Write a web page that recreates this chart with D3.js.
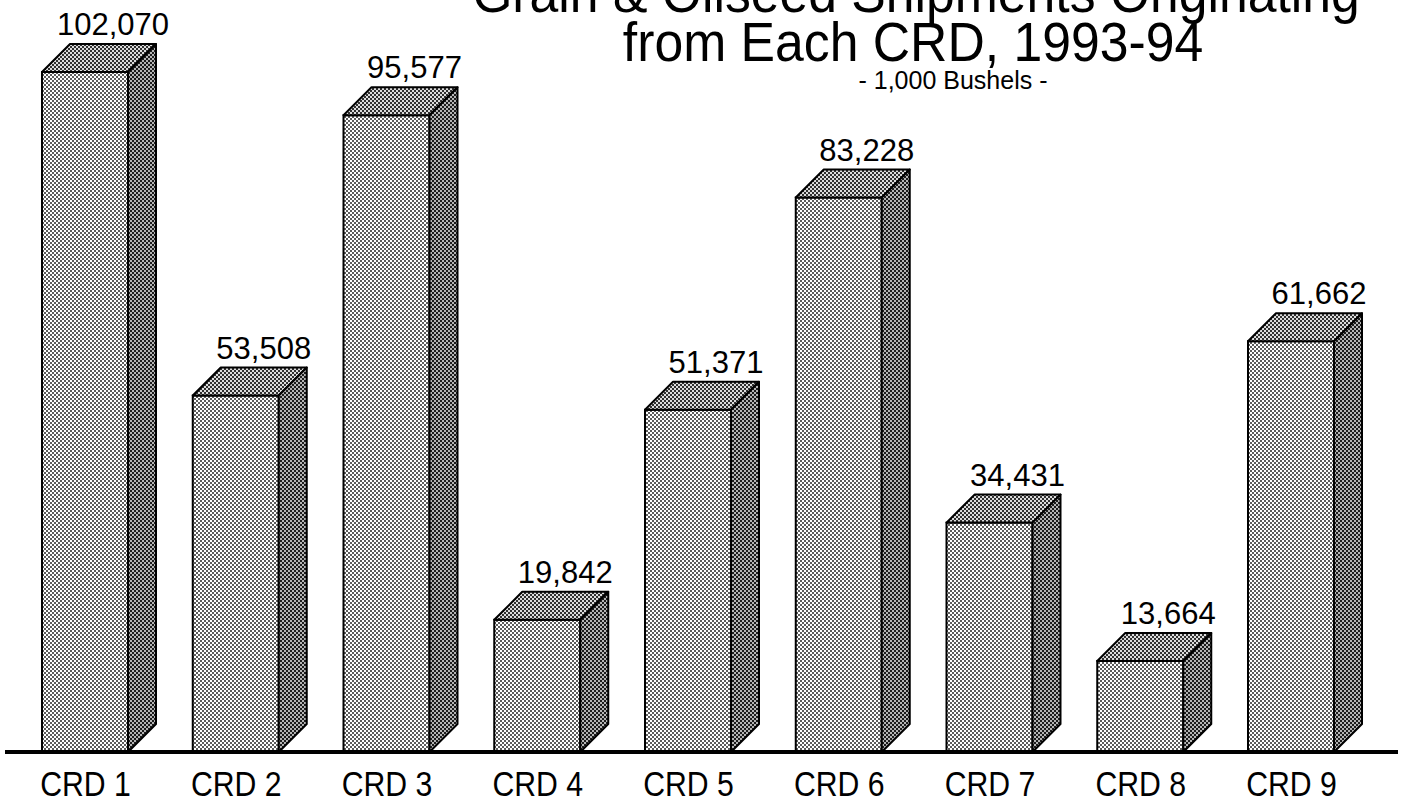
<!DOCTYPE html>
<html>
<head>
<meta charset="utf-8">
<script src="https://cdn.jsdelivr.net/npm/d3@7"></script>
<style>
  html, body { margin: 0; padding: 0; background: #fff; }
  svg { display: block; }
  text { font-family: "Liberation Sans", Arial, Helvetica, sans-serif; fill: #000; }
</style>
</head>
<body>
<svg id="chart" width="1409" height="804"></svg>
<script>
// ---- Data ----
const categories = ["CRD 1", "CRD 2", "CRD 3", "CRD 4", "CRD 5", "CRD 6", "CRD 7", "CRD 8", "CRD 9"];
const values = [102070, 53508, 95577, 19842, 51371, 83228, 34431, 13664, 61662];
const titleLines = ["Grain & Oilseed Shipments Originating", "from Each CRD, 1993-94"];
const subtitle = "- 1,000 Bushels -";

// ---- Layout ----
const W = 1409, H = 804;
const baseY = 752;
const barW = 86;
const depthX = 28, depthY = 28;

const svg = d3.select("#chart");
const defs = svg.append("defs");

function checker(id, light, dark) {
  const p = defs.append("pattern").attr("id", id).attr("patternUnits", "userSpaceOnUse")
    .attr("width", 4).attr("height", 4);
  p.append("rect").attr("width", 4).attr("height", 4).attr("fill", light);
  p.append("rect").attr("x", 0).attr("y", 0).attr("width", 2).attr("height", 2).attr("fill", dark);
  p.append("rect").attr("x", 2).attr("y", 2).attr("width", 2).attr("height", 2).attr("fill", dark);
}
checker("pFront", "#ffffff", "#5c5c5c");
checker("pTop", "#dcdcdc", "#303030");
checker("pSide", "#b4b4b4", "#1c1c1c");

const x = d3.scalePoint().domain(categories).range([85, 1291]);
const y = d3.scaleLinear().domain([0, d3.max(values)]).range([baseY, 72]);

const data = categories.map((c, i) => ({ c, v: values[i] }));

const bars = svg.append("g").selectAll("g").data(data).join("g");

// front face
bars.append("rect")
  .attr("x", d => x(d.c) - barW / 2)
  .attr("y", d => y(d.v))
  .attr("width", barW)
  .attr("height", d => baseY - y(d.v))
  .attr("fill", "url(#pFront)")
  .attr("stroke", "#000").attr("stroke-width", 2);

// top face
bars.append("path")
  .attr("d", d => {
    const l = x(d.c) - barW / 2, r = l + barW, t = y(d.v);
    return `M${l},${t} L${l + depthX},${t - depthY} L${r + depthX},${t - depthY} L${r},${t} Z`;
  })
  .attr("fill", "url(#pTop)")
  .attr("stroke", "#000").attr("stroke-width", 2).attr("stroke-linejoin", "round");

// side face
bars.append("path")
  .attr("d", d => {
    const r = x(d.c) + barW / 2, t = y(d.v);
    return `M${r},${t} L${r + depthX},${t - depthY} L${r + depthX},${baseY - depthY} L${r},${baseY} Z`;
  })
  .attr("fill", "url(#pSide)")
  .attr("stroke", "#000").attr("stroke-width", 2).attr("stroke-linejoin", "round");

// value labels
bars.append("text")
  .attr("x", d => x(d.c) + depthX)
  .attr("y", d => y(d.v) - depthY - 9)
  .attr("text-anchor", "middle")
  .attr("font-size", 31)
  .text(d => d3.format(",")(d.v));

// baseline axis
const xAxis = d3.axisBottom(x).tickSize(0).tickPadding(0);
const axisG = svg.append("g").attr("transform", `translate(0,${baseY})`).call(xAxis);
axisG.select(".domain").remove();
axisG.append("line").attr("x1", 5).attr("x2", 1398).attr("y1", 0).attr("y2", 0)
  .attr("stroke", "#000").attr("stroke-width", 4);
axisG.selectAll(".tick text")
  .attr("font-size", 36)
  .attr("font-family", '"Liberation Sans", Arial, sans-serif')
  .attr("fill", "#000")
  .attr("dy", 0)
  .attr("y", 0)
  .attr("text-anchor", "middle")
  .attr("transform", "translate(0,44) scale(0.84,1)");

// titles
svg.append("text").attr("text-anchor", "middle").attr("font-size", 55)
  .attr("transform", "translate(916,12) scale(0.94,1)").text(titleLines[0]);
svg.append("text").attr("text-anchor", "middle").attr("font-size", 55)
  .attr("transform", "translate(913,61) scale(0.94,1)").text(titleLines[1]);
svg.append("text").attr("text-anchor", "middle").attr("font-size", 25)
  .attr("transform", "translate(953,89)").text(subtitle);
</script>
</body>
</html>
